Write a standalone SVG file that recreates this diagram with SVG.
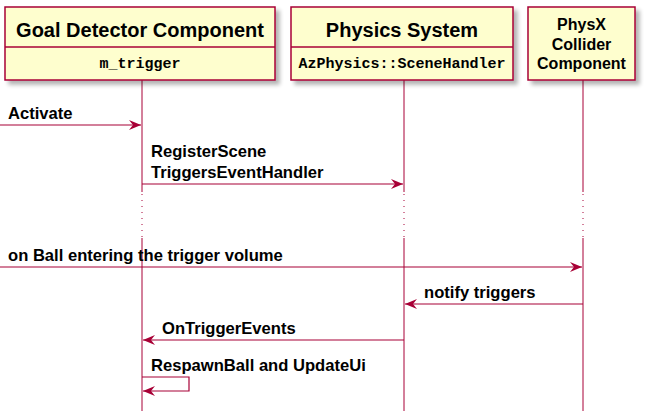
<svg xmlns="http://www.w3.org/2000/svg" width="650" height="418" viewBox="0 0 650 418">
<defs>
<filter id="sh" x="-10%" y="-10%" width="130%" height="140%">
<feGaussianBlur in="SourceAlpha" stdDeviation="2"/>
<feOffset dx="4" dy="4" result="b"/>
<feComponentTransfer><feFuncA type="linear" slope="0.3"/></feComponentTransfer>
<feMerge><feMergeNode/><feMergeNode in="SourceGraphic"/></feMerge>
</filter>
<marker id="ah" markerWidth="14" markerHeight="12" refX="12" refY="6" orient="auto" markerUnits="userSpaceOnUse">
<polygon points="0,1 12,6 0,11 4,6" fill="#A80036"/>
</marker>
</defs>
<style>
.box{fill:#FEFECE;stroke:#A80036;stroke-width:1.5}
.life{stroke:#A80036;stroke-width:1}
.dot{stroke:#A80036;stroke-width:1;stroke-dasharray:1 5}
.msg{stroke:#A80036;stroke-width:1.2;fill:none;marker-end:url(#ah)}
.t{font-family:"Liberation Sans",Arial,sans-serif;font-weight:bold;fill:#000}
.m{font-family:"Liberation Mono","Courier New",monospace;font-weight:bold;fill:#000}
.l{font-size:16.6px}
</style>
<rect width="650" height="418" fill="#fff"/>
<g id="lifelines">
<line class="life" x1="142" y1="80" x2="142" y2="192"/>
<line class="dot" x1="142" y1="194" x2="142" y2="238"/>
<line class="life" x1="142" y1="238" x2="142" y2="411"/>
<line class="life" x1="404" y1="80" x2="404" y2="192"/>
<line class="dot" x1="404" y1="194" x2="404" y2="238"/>
<line class="life" x1="404" y1="238" x2="404" y2="411"/>
<line class="life" x1="583" y1="80" x2="583" y2="192"/>
<line class="dot" x1="583" y1="194" x2="583" y2="238"/>
<line class="life" x1="583" y1="238" x2="583" y2="411"/>
</g>
<g id="goal">
<rect class="box" x="5" y="7" width="270" height="73" filter="url(#sh)"/>
<line x1="5" y1="47" x2="275" y2="47" stroke="#A80036" stroke-width="1.5"/>
<text class="t" x="140" y="37" font-size="20" text-anchor="middle">Goal Detector Component</text>
<text class="m" x="140" y="68" font-size="15" text-anchor="middle">m_trigger</text>
</g>
<g id="physics">
<rect class="box" x="291" y="7" width="222" height="73" filter="url(#sh)"/>
<line x1="291" y1="47" x2="513" y2="47" stroke="#A80036" stroke-width="1.5"/>
<text class="t" x="402" y="37" font-size="20" text-anchor="middle">Physics System</text>
<text class="m" x="402" y="68" font-size="15" text-anchor="middle">AzPhysics::SceneHandler</text>
</g>
<g id="collider">
<rect class="box" x="528" y="7" width="107" height="73" filter="url(#sh)"/>
<text class="t" x="581.5" y="30" font-size="16" text-anchor="middle">PhysX</text>
<text class="t" x="581.5" y="50" font-size="16" text-anchor="middle">Collider</text>
<text class="t" x="581.5" y="69" font-size="16" text-anchor="middle">Component</text>
</g>
<g id="connectors">
<line class="msg" x1="0" y1="125" x2="141" y2="125"/>
<text class="t l" x="8" y="119">Activate</text>
<line class="msg" x1="142" y1="184" x2="403" y2="184"/>
<text class="t l" x="151" y="157">RegisterScene</text>
<text class="t l" x="151" y="178">TriggersEventHandler</text>
<line class="msg" x1="0" y1="267" x2="582" y2="267"/>
<text class="t l" x="8" y="261">on Ball entering the trigger volume</text>
<line class="msg" x1="583" y1="304" x2="405" y2="304"/>
<text class="t l" x="424" y="298">notify triggers</text>
<line class="msg" x1="404" y1="340" x2="143" y2="340"/>
<text class="t l" x="162" y="334">OnTriggerEvents</text>
<polyline class="msg" points="142,377 189,377 189,391 143,391"/>
<text class="t l" x="151" y="371">RespawnBall and UpdateUi</text>
</g>
</svg>
